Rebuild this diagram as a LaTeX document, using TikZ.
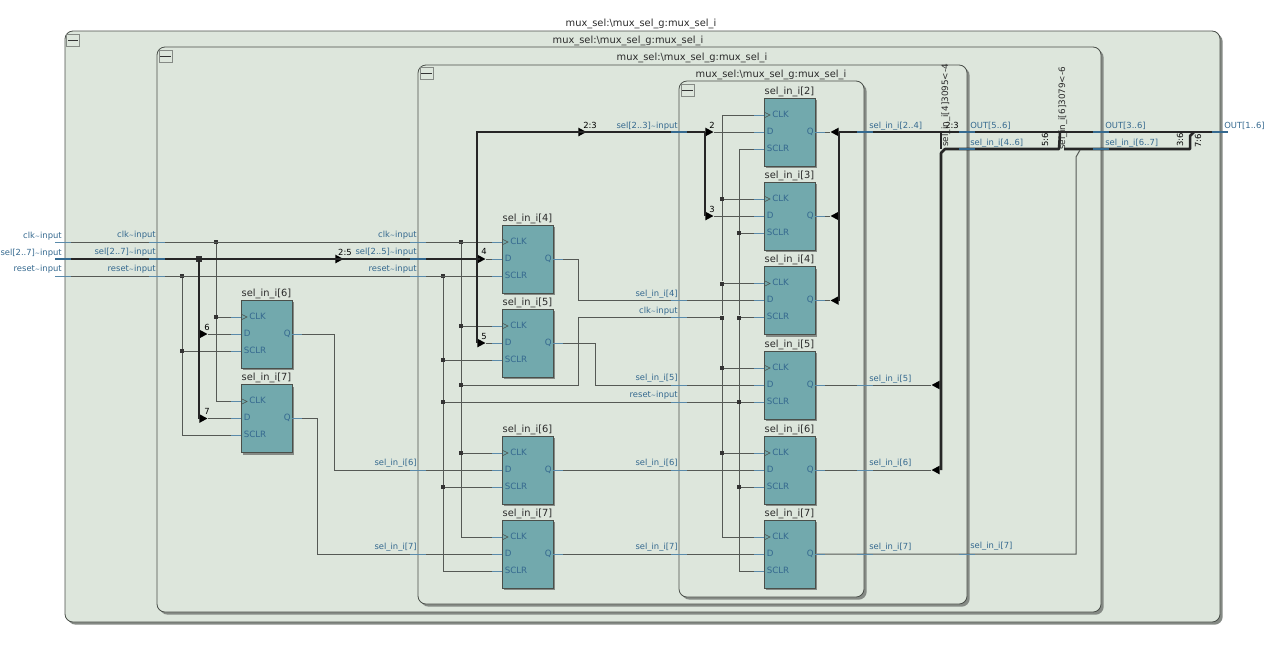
\documentclass[tikz,border=0pt]{standalone}
\usepackage{fontspec}
\setmainfont{DejaVu Sans}
\usetikzlibrary{shapes,shadows}

\definecolor{framefill}{HTML}{DDE6DC}
\definecolor{frameline}{HTML}{4A4F4A}
\definecolor{shadowgray}{HTML}{858A85}
\definecolor{fffill}{HTML}{72A9AD}
\definecolor{sigblue}{HTML}{35698F}
\definecolor{tickblue}{HTML}{5A8AAA}
\definecolor{wiregray}{HTML}{555955}
\definecolor{darktext}{HTML}{2A2A2A}

\newcommand{\sii}{sel\_in\_i}
\newcommand{\wv}{{\fontsize{4.6}{5}\selectfont\textasciitilde}}

\tikzset{
  txt/.style={font=\fontsize{6.3}{7}\selectfont,inner sep=0pt},
  title/.style={font=\fontsize{7.4}{8}\selectfont,inner sep=0pt,text=darktext,anchor=base},
  sig/.style={txt,text=sigblue,anchor=base east},
  sigr/.style={txt,text=sigblue,anchor=base west},
  pintxt/.style={sigr,font=\fontsize{6.5}{7}\selectfont},
  num/.style={txt,text=black},
  rotnum/.style={font=\fontsize{6.6}{7}\selectfont,inner sep=0pt,text=darktext,rotate=90,anchor=base west},
  frame/.style={shape=rectangle,draw=frameline,fill=framefill,line width=0.6pt,rounded corners=6pt,inner sep=0pt,drop shadow={shadow xshift=2pt,shadow yshift=-2pt,fill=shadowgray,opacity=1}},
  ffbox/.style={shape=rectangle,draw=frameline,fill=fffill,line width=0.6pt,inner sep=0pt,minimum width=38.25pt,minimum height=51pt,drop shadow={shadow xshift=1.6pt,shadow yshift=-1.6pt,fill=shadowgray,opacity=1}},
  minusbox/.style={shape=rectangle,draw=shadowgray,fill=framefill,line width=0.7pt,inner sep=0pt,minimum width=9.8pt,minimum height=9.2pt},
  wire/.style={draw=wiregray,line width=0.75pt},
  bus/.style={draw=black!85,line width=1.9pt},
  pinwire/.style={draw=tickblue,line width=0.7pt},
  tick/.style={draw=tickblue,line width=0.75pt},
  bustick/.style={draw=sigblue,line width=1.9pt},
  dot/.style={shape=rectangle,fill=black!80,inner sep=0pt,minimum size=3pt},
  tipright/.style={shape=isosceles triangle,fill=black,inner sep=0pt,isosceles triangle stretches,minimum height=6pt,minimum width=6.5pt},
  tipleft/.style={tipright,shape border rotate=180},
}

\begin{document}
\begin{tikzpicture}[x=0.75pt,y=-0.75pt]
\useasboundingbox (0,0) rectangle (1280,647);

% frames
\node[frame,minimum width=866.25pt,minimum height=443.25pt] (box1) at (642.5,326.5) {};
\node[frame,minimum width=708pt,minimum height=423.75pt] (box2) at (629,329.5) {};
\node[frame,minimum width=411.75pt,minimum height=404.25pt] (box3) at (692.5,334.5) {};
\node[frame,minimum width=138.75pt,minimum height=387pt] (box4) at (771.5,339) {};
\node[title] (t1) at (641,26) {mux\_sel:\textbackslash mux\_sel\_g:mux\_sel\_i};
\node[title] (t2) at (628,43) {mux\_sel:\textbackslash mux\_sel\_g:mux\_sel\_i};
\node[title] (t3) at (692,60) {mux\_sel:\textbackslash mux\_sel\_g:mux\_sel\_i};
\node[title] (t4) at (771,77) {mux\_sel:\textbackslash mux\_sel\_g:mux\_sel\_i};
\foreach \nm/\x/\y in {m1/73/40.5,m2/165.5/56.5,m3/426.5/73.5,m4/687.5/90.5} {
  \node[minusbox] (\nm) at (\x,\y) {};
  \draw[line width=1.2pt,draw=black!80,shorten >=1.4pt,shorten <=1.4pt] (\nm.west) -- (\nm.east);
}

% pin points of the flip-flops
\foreach \nm/\x/\y in {a6/241/300,a7/241/384.5,b4/502/225,b5/502/309,b6/502/436,b7/502/520,c2/764/98,c3/764/182,c4/764/266.5,c5/764/351,c6/764/436,c7/764/520} {
  \coordinate (\nm clk) at (\x,\y+17);
  \coordinate (\nm d) at (\x,\y+34);
  \coordinate (\nm sclr) at (\x,\y+51);
  \coordinate (\nm q) at (\x+51,\y+34);
}

% clk
\coordinate (clkin) at (55,242);
\node[dot] (k1) at (216,242) {};
\node[dot] (k2) at (216,317) {};
\node[dot] (k3) at (461,242) {};
\node[dot] (k4) at (461,326) {};
\node[dot] (k5) at (461,385) {};
\node[dot] (k6) at (461,453) {};
\node[dot] (k7) at (722,199) {};
\node[dot] (k8) at (722,283.5) {};
\node[dot] (k9) at (722,317.5) {};
\node[dot] (k10) at (722,368) {};
\node[dot] (k11) at (722,453) {};
\coordinate (k12) at (578,385);
\coordinate (k13) at (578,317.5);
\draw[wire] (clkin) -- (b4clk);
\draw[wire] (k1) -- (k2);
\draw[wire] (k2) |- (a7clk);
\draw[wire] (k2) -- (a6clk);
\draw[wire] (k3) -- (k4);
\draw[wire] (k4) -- (k5);
\draw[wire] (k5) -- (k6);
\draw[wire] (k6) |- (b7clk);
\draw[wire] (k4) -- (b5clk);
\draw[wire] (k6) -- (b6clk);
\draw[wire] (k5) -- (k12) -- (k13) -- (k9);
\draw[wire] (c2clk) -| (k7);
\draw[wire] (k7) -- (k8);
\draw[wire] (k8) -- (k9);
\draw[wire] (k9) -- (k10);
\draw[wire] (k10) -- (k11);
\draw[wire] (k11) |- (c7clk);
\draw[wire] (k7) -- (c3clk);
\draw[wire] (k8) -- (c4clk);
\draw[wire] (k10) -- (c5clk);
\draw[wire] (k11) -- (c6clk);

% reset
\coordinate (rstin) at (55,276);
\node[dot] (r1) at (182,276) {};
\node[dot] (r2) at (182,351) {};
\node[dot] (r3) at (443,276) {};
\node[dot] (r4) at (443,360) {};
\node[dot] (r5) at (443,402) {};
\node[dot] (r6) at (443,487) {};
\node[dot] (r7) at (739,233) {};
\node[dot] (r8) at (739,317.5) {};
\node[dot] (r9) at (739,402) {};
\node[dot] (r10) at (739,487) {};
\draw[wire] (rstin) -- (b4sclr);
\draw[wire] (r1) -- (r2);
\draw[wire] (r2) |- (a7sclr);
\draw[wire] (r2) -- (a6sclr);
\draw[wire] (r3) -- (r4);
\draw[wire] (r4) -- (r5);
\draw[wire] (r5) -- (r6);
\draw[wire] (r6) |- (b7sclr);
\draw[wire] (r4) -- (b5sclr);
\draw[wire] (r6) -- (b6sclr);
\draw[wire] (r5) -- (r9);
\draw[wire] (r9) -- (c5sclr);
\draw[wire] (c2sclr) -| (r7);
\draw[wire] (r7) -- (r8);
\draw[wire] (r8) -- (r9);
\draw[wire] (r9) -- (r10);
\draw[wire] (r10) |- (c7sclr);
\draw[wire] (r7) -- (c3sclr);
\draw[wire] (r8) -- (c4sclr);
\draw[wire] (r10) -- (c6sclr);

% data between the registers
\draw[wire] (a6q) -- ++(42,0) |- (b6d);
\draw[wire] (a7q) -- ++(25,0) |- (b7d);
\draw[wire] (b4q) -- ++(25,0) |- (c4d);
\draw[wire] (b5q) -- ++(42,0) |- (c5d);
\draw[wire] (b6q) -- (c6d);
\draw[wire] (b7q) -- (c7d);

% sel bus
\coordinate (selin) at (55,259);
\node[dot,minimum size=5pt] (s1) at (199,259) {};
\node[tipright] (s2) at (338,259) {};
\node[tipright] (s3) at (480,259) {};
\node[tipright] (s4) at (202,334) {};
\node[tipright] (s5) at (202,418.5) {};
\node[tipright] (s6) at (480,343) {};
\node[tipright] (s7) at (581,132) {};
\node[tipright] (s8) at (708,132) {};
\node[tipright] (s9) at (708,216) {};
\coordinate (s10) at (477,259);
\coordinate (s11) at (477,343);
\coordinate (s12) at (705,132);
\coordinate (s13) at (705,216);
\coordinate (s14) at (199,418.5);
\draw[bus] (selin) -- (s3.center);
\draw[bus] (s1.center) -- (s14);
\draw[bus] (s10) |- (s12);
\draw[bus] (s10) -- (s11);
\draw[bus] (s12) -- (s13);
\draw[wire] (s3) -- (b4d);
\draw[wire] (s4) -- (a6d);
\draw[wire] (s5) -- (a7d);
\draw[wire] (s6) -- (b5d);
\draw[wire] (s8) -- (c2d);
\draw[wire] (s9) -- (c3d);

% out bus
\node[tipleft] (o1) at (836,132) {};
\node[tipleft] (o2) at (836,216) {};
\node[tipleft] (o3) at (836,300.5) {};
\node[tipleft] (o4) at (937,385) {};
\node[tipleft] (o5) at (937,470) {};
\coordinate (o6) at (839,132);
\coordinate (o7) at (941,132);
\coordinate (o8) at (1226,132);
\coordinate (o9) at (945,149);
\coordinate (o10) at (1059,149);
\coordinate (o11) at (1064,149);
\coordinate (o12) at (1190,149);
\coordinate (o13) at (1194,132);
\coordinate (o14) at (1060,132);
\coordinate (o15) at (1080,150);
\coordinate (o16) at (839,300.5);
\coordinate (o17) at (941,470);
\coordinate (o18) at (941,153);
\coordinate (o19) at (941,149);
\coordinate (o20) at (1190,136);
\coordinate (o21) at (1076,157);
\draw[wire] (c2q) -- (o1);
\draw[wire] (c3q) -- (o2);
\draw[wire] (c4q) -- (o3);
\draw[wire] (c5q) -- (o4);
\draw[wire] (c6q) -- (o5);
\draw[bus] (o6) -- (o16);
\draw[bus] (o6) -- (o8);
\draw[bus,line join=bevel] (o17) -- (o18) -- (o9) -- (o10) -- (o14);
\draw[bus] (o7) -- (o19);
\draw[bus,line join=bevel] (o11) -- (o12) -- (o20) -- (o13);
\draw[wire] (c7q) -- ++(261,0) |- (o21) -- (o15);

% flip-flops
\foreach \nm/\x/\y/\i in {a6/241/300/6,a7/241/384.5/7,b4/502/225/4,b5/502/309/5,b6/502/436/6,b7/502/520/7,c2/764/98/2,c3/764/182/3,c4/764/266.5/4,c5/764/351/5,c6/764/436/6,c7/764/520/7} {
  \node[ffbox] (\nm) at (\x+25.5,\y+34) {};
  \node[title] (\nm t) at (\x+25.5,\y-4) {\sii[\i]};
  \node[pintxt] (\nm tc) at (\x+8,\y+19) {CLK};
  \node[pintxt] (\nm td) at (\x+2.5,\y+36) {D};
  \node[pintxt] (\nm ts) at (\x+2.5,\y+53) {SCLR};
  \node[sig,font=\fontsize{6.5}{7}\selectfont] (\nm tq) at (\x+50,\y+36) {Q};
  \draw[pinwire] (\x-10,\y+17) -- (\nm clk);
  \draw[pinwire] (\x-10,\y+34) -- (\nm d);
  \draw[pinwire] (\x-10,\y+51) -- (\nm sclr);
  \draw[pinwire] (\nm q) -- ++(10,0);
  \draw[draw=frameline,line width=0.4pt] (\x+1,\y+14.5) -- (\x+6,\y+17) -- (\x+1,\y+19.5);
}

% boundary marks
\foreach \x/\y in {63/242,63/276,157/242,157/276,418/242,418/276,418/470,418/554,679/300.5,679/317.5,679/385,679/402,679/470,679/554,865/385,865/470,865/554,967/554} {
  \draw[tick] (\x-8,\y) -- (\x+8,\y);
}
\foreach \x/\y in {63/259,157/259,418/259,679/132,865/132,967/132,967/149,1101/132,1101/149,1220/132} {
  \draw[bustick] (\x-8,\y) -- (\x+8,\y);
}

% signal names
\foreach \x/\y/\s [count=\n] in {62/238/clk\wv{}input,62/255/sel[2..7]\wv{}input,62/271/reset\wv{}input,156/237/clk\wv{}input,156/254/sel[2..7]\wv{}input,156/271/reset\wv{}input,417/237/clk\wv{}input,417/254/sel[2..5]\wv{}input,417/271/reset\wv{}input,417/465/\sii[6],417/549/\sii[7],678/128/sel[2..3]\wv{}input,678/296/\sii[4],678/313/clk\wv{}input,678/380/\sii[5],678/397/reset\wv{}input,678/465/\sii[6],678/549/\sii[7]} {
  \node[sig] (ln\n) at (\x,\y) {\s};
}
\foreach \x/\y/\s [count=\n] in {869/128/\sii[2..4],869/381/\sii[5],869/465/\sii[6],869/549/\sii[7],970/128/OUT[5..6],970/145/\sii[4..6],970/548/\sii[7],1105/128/OUT[3..6],1105/145/\sii[6..7],1224/128/OUT[1..6]} {
  \node[sigr] (rn\n) at (\x,\y) {\s};
}

% bit ranges
\node[num] (n1) at (345,252) {2:5};
\node[num] (n2) at (590,125) {2:3};
\node[num] (n3) at (484,251) {4};
\node[num] (n4) at (484,336) {5};
\node[num] (n5) at (207,327) {6};
\node[num] (n6) at (207,411) {7};
\node[num] (n7) at (712,125) {2};
\node[num] (n8) at (712,209) {3};
\node[num] (n9) at (952,125) {2:3};
\node[num,rotate=90] (n10) at (1045,140) {5:6};
\node[num,rotate=90] (n11) at (1180,140) {3:6};
\node[num,rotate=90] (n12) at (1198,141) {7:6};
\node[rotnum] (n13) at (948,147) {\sii[4]3095<-4};
\node[rotnum] (n14) at (1065,150) {\sii[6]3079<-6};
\end{tikzpicture}
\end{document}
